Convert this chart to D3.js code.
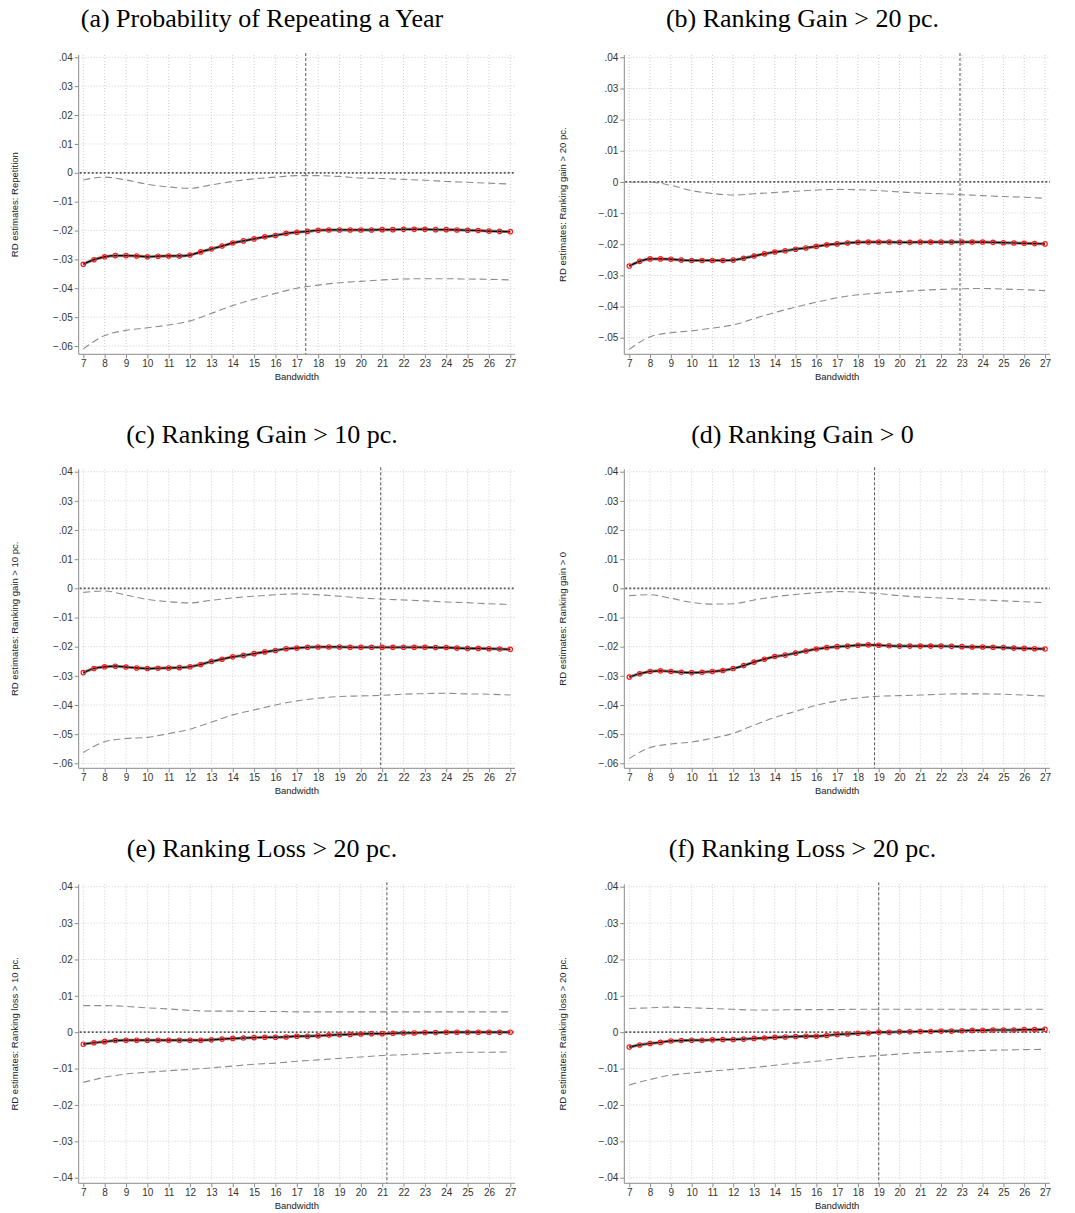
<!DOCTYPE html>
<html>
<head>
<meta charset="utf-8">
<script src="https://cdn.jsdelivr.net/npm/d3@7"></script>
<style>
  html, body { margin: 0; padding: 0; background: #fff; }
  svg { display: block; }
  .tick-label { font-family: "Liberation Sans", Arial, sans-serif; font-size: 10px; fill: #333; }
  .axis-title { font-family: "Liberation Sans", Arial, sans-serif; font-size: 9.5px; fill: #222; }
  .panel-title { font-family: "Liberation Serif", "Times New Roman", serif; font-size: 26px; fill: #000; }
</style>
</head>
<body>
<svg id="chart" width="1075" height="1213"></svg>
<script>
// Bandwidths at which the RD estimate is computed
const bandwidths = [7, 7.5, 8, 8.5, 9, 9.5, 10, 10.5, 11, 11.5, 12, 12.5, 13, 13.5, 14, 14.5, 15, 15.5, 16, 16.5,
  17, 17.5, 18, 18.5, 19, 19.5, 20, 20.5, 21, 21.5, 22, 22.5, 23, 23.5, 24, 24.5, 25, 25.5, 26, 26.5, 27];
// Bandwidths for the confidence-interval bounds
const ciBandwidths = [7, 8, 9, 10, 11, 12, 13, 14, 15, 16, 17, 18, 19, 20, 21, 22, 23, 24, 25, 26, 27];
const xTicks = [7, 8, 9, 10, 11, 12, 13, 14, 15, 16, 17, 18, 19, 20, 21, 22, 23, 24, 25, 26, 27];

const panelTitles = [
  "(a) Probability of Repeating a Year",
  "(b) Ranking Gain > 20 pc.",
  "(c) Ranking Gain > 10 pc.",
  "(d) Ranking Gain > 0",
  "(e) Ranking Loss > 20 pc.",
  "(f) Ranking Loss > 20 pc."
];
const yAxisTitles = [
  "RD estimates: Repetition",
  "RD estimates: Ranking gain > 20 pc.",
  "RD estimates: Ranking gain > 10 pc.",
  "RD estimates: Ranking gain > 0",
  "RD estimates: Ranking loss > 10 pc.",
  "RD estimates: Ranking loss > 20 pc."
];
const optimalBandwidth = [17.42, 22.91, 20.93, 18.8, 21.22, 19.0];

const yTicksA = [0.04, 0.03, 0.02, 0.01, 0, -0.01, -0.02, -0.03, -0.04, -0.05, -0.06];
const yTicksB = [0.04, 0.03, 0.02, 0.01, 0, -0.01, -0.02, -0.03, -0.04, -0.05];
const yTicksC = [0.04, 0.03, 0.02, 0.01, 0, -0.01, -0.02, -0.03, -0.04, -0.05, -0.06];
const yTicksD = [0.04, 0.03, 0.02, 0.01, 0, -0.01, -0.02, -0.03, -0.04, -0.05, -0.06];
const yTicksE = [0.04, 0.03, 0.02, 0.01, 0, -0.01, -0.02, -0.03, -0.04];
const yTicksF = [0.04, 0.03, 0.02, 0.01, 0, -0.01, -0.02, -0.03, -0.04];

// (a) Repetition
const estA = [-0.0317, -0.0301, -0.0291, -0.0287, -0.0287, -0.0288, -0.0291, -0.0289, -0.0288, -0.0288, -0.0285,
  -0.0274, -0.0264, -0.0254, -0.0243, -0.0236, -0.0229, -0.0222, -0.0217, -0.0210, -0.0206, -0.0203, -0.0199,
  -0.0198, -0.0198, -0.0198, -0.0198, -0.0198, -0.0197, -0.0197, -0.0196, -0.0196, -0.0196, -0.0197, -0.0197,
  -0.0198, -0.0199, -0.0200, -0.0202, -0.0203, -0.0204];
const upA = [-0.0025, -0.0015, -0.0025, -0.0040, -0.0049, -0.0054, -0.0042, -0.0030, -0.0021, -0.0015, -0.0010,
  -0.0010, -0.0013, -0.0018, -0.0020, -0.0023, -0.0026, -0.0030, -0.0033, -0.0036, -0.0039];
const loA = [-0.0610, -0.0564, -0.0546, -0.0537, -0.0527, -0.0513, -0.0487, -0.0460, -0.0438, -0.0418, -0.0400,
  -0.0389, -0.0381, -0.0376, -0.0371, -0.0368, -0.0367, -0.0367, -0.0368, -0.0369, -0.0371];

// (b) Ranking gain > 20 pc.
const estB = [-0.0270, -0.0255, -0.0247, -0.0247, -0.0248, -0.0251, -0.0252, -0.0252, -0.0252, -0.0252, -0.0251,
  -0.0245, -0.0238, -0.0231, -0.0225, -0.0221, -0.0216, -0.0212, -0.0207, -0.0202, -0.0199, -0.0196, -0.0194,
  -0.0193, -0.0193, -0.0193, -0.0194, -0.0194, -0.0193, -0.0193, -0.0193, -0.0193, -0.0193, -0.0193, -0.0193,
  -0.0194, -0.0195, -0.0196, -0.0197, -0.0198, -0.0199];
const upB = [-0.0001, -0.0001, -0.0011, -0.0028, -0.0037, -0.0042, -0.0038, -0.0034, -0.0030, -0.0026, -0.0024,
  -0.0025, -0.0028, -0.0032, -0.0036, -0.0038, -0.0041, -0.0044, -0.0047, -0.0049, -0.0053];
const loB = [-0.0537, -0.0497, -0.0484, -0.0478, -0.0469, -0.0459, -0.0439, -0.0419, -0.0402, -0.0386, -0.0372,
  -0.0362, -0.0357, -0.0352, -0.0348, -0.0345, -0.0343, -0.0342, -0.0344, -0.0346, -0.0349];

// (c) Ranking gain > 10 pc.
const estC = [-0.0289, -0.0275, -0.0269, -0.0267, -0.0270, -0.0273, -0.0275, -0.0274, -0.0273, -0.0272, -0.0269,
  -0.0261, -0.0251, -0.0243, -0.0235, -0.0230, -0.0224, -0.0218, -0.0213, -0.0207, -0.0205, -0.0202, -0.0201,
  -0.0201, -0.0201, -0.0202, -0.0202, -0.0202, -0.0202, -0.0202, -0.0202, -0.0202, -0.0202, -0.0203, -0.0203,
  -0.0205, -0.0206, -0.0206, -0.0207, -0.0208, -0.0209];
const upC = [-0.0014, -0.0009, -0.0023, -0.0038, -0.0046, -0.0050, -0.0041, -0.0033, -0.0027, -0.0022, -0.0019,
  -0.0022, -0.0027, -0.0033, -0.0037, -0.0040, -0.0043, -0.0047, -0.0049, -0.0053, -0.0055];
const loC = [-0.0563, -0.0526, -0.0515, -0.0511, -0.0498, -0.0483, -0.0459, -0.0434, -0.0417, -0.0400, -0.0386,
  -0.0377, -0.0371, -0.0369, -0.0367, -0.0363, -0.0361, -0.0360, -0.0362, -0.0363, -0.0366];

// (d) Ranking gain > 0
const estD = [-0.0304, -0.0293, -0.0285, -0.0283, -0.0285, -0.0288, -0.0289, -0.0288, -0.0285, -0.0282, -0.0275,
  -0.0265, -0.0253, -0.0243, -0.0234, -0.0229, -0.0222, -0.0215, -0.0208, -0.0203, -0.0200, -0.0198, -0.0195,
  -0.0194, -0.0195, -0.0197, -0.0198, -0.0198, -0.0198, -0.0198, -0.0198, -0.0199, -0.0200, -0.0201, -0.0201,
  -0.0202, -0.0203, -0.0205, -0.0206, -0.0207, -0.0208];
const upD = [-0.0025, -0.0022, -0.0034, -0.0048, -0.0054, -0.0053, -0.0040, -0.0029, -0.0021, -0.0015, -0.0011,
  -0.0013, -0.0018, -0.0025, -0.0030, -0.0033, -0.0037, -0.0040, -0.0043, -0.0046, -0.0049];
const loD = [-0.0584, -0.0546, -0.0534, -0.0527, -0.0514, -0.0497, -0.0469, -0.0443, -0.0422, -0.0401, -0.0386,
  -0.0376, -0.0370, -0.0368, -0.0366, -0.0363, -0.0362, -0.0362, -0.0363, -0.0366, -0.0369];

// (e) Ranking loss > 10 pc.
const estE = [-0.0033, -0.0029, -0.0026, -0.0023, -0.0022, -0.0022, -0.0022, -0.0022, -0.0022, -0.0022, -0.0022,
  -0.0022, -0.0021, -0.0019, -0.0017, -0.0016, -0.0015, -0.0014, -0.0014, -0.0013, -0.0011, -0.0011, -0.0010,
  -0.0008, -0.0007, -0.0006, -0.0005, -0.0004, -0.0004, -0.0003, -0.0002, -0.0002, -0.0001, -0.0001, 0.0000,
  0.0000, 0.0000, 0.0000, 0.0000, 0.0000, 0.0000];
const upE = [0.0073, 0.0073, 0.0071, 0.0067, 0.0064, 0.0060, 0.0058, 0.0058, 0.0057, 0.0057, 0.0056,
  0.0056, 0.0056, 0.0056, 0.0056, 0.0056, 0.0056, 0.0056, 0.0056, 0.0056, 0.0056];
const loE = [-0.0138, -0.0124, -0.0115, -0.0110, -0.0106, -0.0102, -0.0098, -0.0093, -0.0088, -0.0085, -0.0080,
  -0.0076, -0.0072, -0.0068, -0.0064, -0.0062, -0.0059, -0.0057, -0.0055, -0.0055, -0.0054];

// (f) Ranking loss > 20 pc.
const estF = [-0.0041, -0.0035, -0.0031, -0.0028, -0.0024, -0.0023, -0.0022, -0.0022, -0.0021, -0.0020, -0.0020,
  -0.0019, -0.0017, -0.0016, -0.0014, -0.0013, -0.0012, -0.0011, -0.0011, -0.0009, -0.0006, -0.0005, -0.0003,
  -0.0002, 0.0000, 0.0000, 0.0001, 0.0001, 0.0002, 0.0002, 0.0003, 0.0003, 0.0004, 0.0005, 0.0005,
  0.0006, 0.0006, 0.0006, 0.0007, 0.0007, 0.0008];
const upF = [0.0065, 0.0067, 0.0069, 0.0067, 0.0065, 0.0063, 0.0061, 0.0061, 0.0062, 0.0062, 0.0062,
  0.0063, 0.0063, 0.0063, 0.0063, 0.0063, 0.0063, 0.0063, 0.0063, 0.0063, 0.0063];
const loF = [-0.0145, -0.0130, -0.0118, -0.0112, -0.0107, -0.0102, -0.0097, -0.0091, -0.0085, -0.0080, -0.0073,
  -0.0068, -0.0064, -0.0060, -0.0056, -0.0054, -0.0052, -0.0050, -0.0049, -0.0048, -0.0047];

const estimates = [estA, estB, estC, estD, estE, estF];
const upperBounds = [upA, upB, upC, upD, upE, upF];
const lowerBounds = [loA, loB, loC, loD, loE, loF];
const yTickSets = [yTicksA, yTicksB, yTicksC, yTicksD, yTicksE, yTicksF];

// ---- Layout (pixels) ----
const columns = [
  { axisX: 78.7, x7: 83.3, x27: 510.3, right: 515, titleX: 262, yTitleX: 15 },
  { axisX: 624.3, x7: 629.3, x27: 1045, right: 1050, titleX: 802.5, yTitleX: 562.7 }
];
// top/bottom of plot region, pixel of the top tick and of the lowest tick
const rows = [
  [{ top: 55, yTop: 57.3, yLow: 346, bottom: 354.3 }, { top: 55, yTop: 57.3, yLow: 337.7, bottom: 354.3 }],
  [{ top: 469.3, yTop: 471.7, yLow: 763.3, bottom: 768.3 }, { top: 469.3, yTop: 471.7, yLow: 763.3, bottom: 768.3 }],
  [{ top: 884.3, yTop: 886.7, yLow: 1177.7, bottom: 1183.3 }, { top: 884.3, yTop: 886.7, yLow: 1177.7, bottom: 1183.3 }]
];
const titleBaselines = [26.7, 442.7, 856.7];

const svg = d3.select("#chart");
const fmtY = d => d === 0 ? "0" : d3.format(".2f")(d).replace("0.", ".");

function drawPanel(i) {
  const col = columns[i % 2];
  const rowIdx = Math.floor(i / 2);
  const row = rows[rowIdx][i % 2];
  const ticks = yTickSets[i];
  const yHi = d3.max(ticks), yLo = d3.min(ticks);

  const x = d3.scaleLinear().domain([7, 27]).range([col.x7, col.x27]);
  const y = d3.scaleLinear().domain([yLo, yHi]).range([row.yLow, row.yTop]);

  const g = svg.append("g");

  // Title
  g.append("text").attr("class", "panel-title")
    .attr("x", col.titleX).attr("y", titleBaselines[rowIdx])
    .attr("text-anchor", "middle").text(panelTitles[i]);

  // Grid
  const grid = g.append("g").attr("stroke", "#cfcfcf").attr("stroke-width", 1).attr("stroke-dasharray", "1,2");
  grid.selectAll("line.h").data(ticks.filter(t => t !== 0)).join("line")
    .attr("x1", col.axisX + 3).attr("x2", col.right)
    .attr("y1", d => y(d)).attr("y2", d => y(d));
  grid.selectAll("line.v").data(xTicks).join("line")
    .attr("x1", d => x(d)).attr("x2", d => x(d))
    .attr("y1", row.top).attr("y2", row.bottom - 2);

  // Axes
  const yAxis = d3.axisLeft(y).tickValues(ticks).tickFormat(fmtY).tickSize(4).tickPadding(2);
  const ya = g.append("g").attr("transform", `translate(${col.axisX},0)`).call(yAxis);
  ya.select(".domain").attr("d", `M0,${row.top}V${row.bottom}`);

  const xAxis = d3.axisBottom(x).tickValues(xTicks).tickFormat(d3.format("d")).tickSize(4).tickPadding(2);
  const xa = g.append("g").attr("transform", `translate(0,${row.bottom})`).call(xAxis);
  xa.select(".domain").attr("d", `M${col.axisX},0H${col.right}`);

  [ya, xa].forEach(a => {
    a.select(".domain").attr("stroke", "#8a8a8a").attr("stroke-width", 1);
    a.selectAll(".tick line").attr("stroke", "#8a8a8a");
    a.selectAll(".tick text").attr("class", "tick-label").attr("font-size", null).attr("font-family", null);
  });
  ya.attr("font-size", null).attr("font-family", null);
  xa.attr("font-size", null).attr("font-family", null);

  // Axis titles
  g.append("text").attr("class", "axis-title")
    .attr("x", (col.axisX + col.right) / 2).attr("y", row.bottom + 26)
    .attr("text-anchor", "middle").text("Bandwidth");
  g.append("text").attr("class", "axis-title")
    .attr("transform", `translate(${col.yTitleX},${(row.top + row.bottom) / 2}) rotate(-90)`)
    .attr("text-anchor", "middle").attr("dy", "0.35em").text(yAxisTitles[i]);

  // Zero reference line
  g.append("line")
    .attr("x1", col.axisX + 1).attr("x2", col.right)
    .attr("y1", y(0)).attr("y2", y(0))
    .attr("stroke", "#555").attr("stroke-width", 1.8).attr("stroke-dasharray", "2,2");

  // Optimal bandwidth marker
  g.append("line")
    .attr("x1", x(optimalBandwidth[i])).attr("x2", x(optimalBandwidth[i]))
    .attr("y1", row.top - 2).attr("y2", row.bottom)
    .attr("stroke", "#555").attr("stroke-width", 1).attr("stroke-dasharray", "3,2");

  // Confidence bounds
  const ciLine = d3.line().x((d, k) => x(ciBandwidths[k])).y(d => y(d)).curve(d3.curveMonotoneX);
  [upperBounds[i], lowerBounds[i]].forEach(arr => {
    g.append("path").attr("d", ciLine(arr))
      .attr("fill", "none").attr("stroke", "#8c8c8c").attr("stroke-width", 1.1)
      .attr("stroke-dasharray", "7,4");
  });

  // Point estimates
  const estLine = d3.line().x((d, k) => x(bandwidths[k])).y(d => y(d)).curve(d3.curveMonotoneX);
  g.append("path").attr("d", estLine(estimates[i]))
    .attr("fill", "none").attr("stroke", "#8a8a8a").attr("stroke-width", 3);
  g.append("path").attr("d", estLine(estimates[i]))
    .attr("fill", "none").attr("stroke", "#000").attr("stroke-width", 1.2);
  g.append("g").selectAll("circle").data(estimates[i]).join("circle")
    .attr("cx", (d, k) => x(bandwidths[k])).attr("cy", d => y(d)).attr("r", 2.2)
    .attr("fill", "none").attr("stroke", "#ff1a1a").attr("stroke-width", 1.2);
}

for (let i = 0; i < 6; i++) drawPanel(i);
</script>
</body>
</html>
